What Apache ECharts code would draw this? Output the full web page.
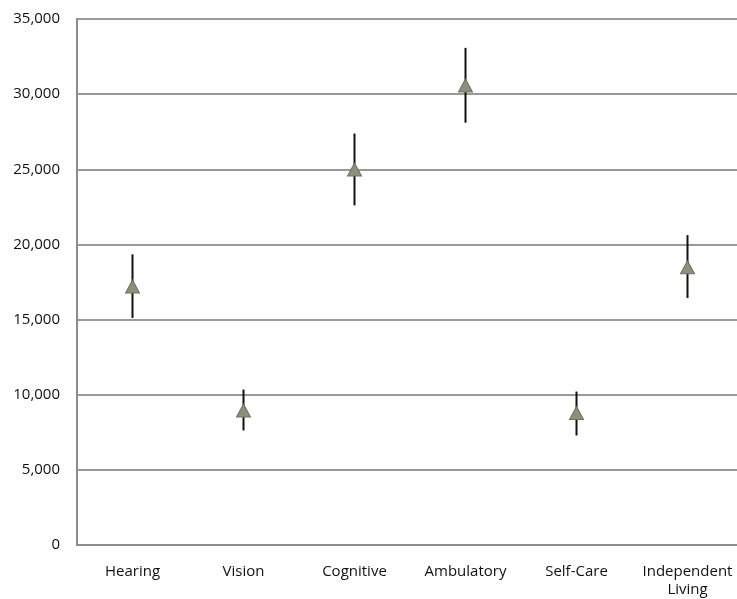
<!DOCTYPE html>
<html>
<head>
<meta charset="utf-8">
<script src="https://cdn.jsdelivr.net/npm/echarts@6/dist/echarts.min.js"></script>
<style>
html,body{margin:0;padding:0;background:#fff;overflow:hidden;}
#chart{width:752px;height:599px;}
</style>
</head>
<body>
<div id="chart"></div>
<script>
const categories = ['Hearing', 'Vision', 'Cognitive', 'Ambulatory', 'Self-Care', 'Independent\nLiving'];
const estimates = [17200, 8950, 24980, 30580, 8780, 18480];
const lowerBounds = [15110, 7620, 22600, 28100, 7290, 16440];
const upperBounds = [19340, 10340, 27380, 33080, 10210, 20620];
const yTicks = [0, 5000, 10000, 15000, 20000, 25000, 30000, 35000];

const chart = echarts.init(document.getElementById('chart'), null, {renderer: 'canvas'});
const errData = categories.map((c, i) => [i, lowerBounds[i], upperBounds[i]]);
const fontFam = '"Open Sans", "Noto Sans", sans-serif';

chart.setOption({
  animation: false,
  backgroundColor: '#ffffff',
  grid: {left: 77, width: 666, top: 19, bottom: 53, containLabel: false},
  xAxis: {
    type: 'category',
    data: categories,
    boundaryGap: true,
    axisLine: {show: true, lineStyle: {color: '#8c8c8c', width: 2}},
    axisTick: {show: false},
    axisLabel: {color: '#111111', fontSize: 15, fontFamily: fontFam, margin: 18, lineHeight: 18, interval: 0},
    splitLine: {show: false}
  },
  yAxis: {
    type: 'value',
    min: yTicks[0],
    max: yTicks[yTicks.length - 1],
    interval: 5000,
    axisLine: {show: true, lineStyle: {color: '#8c8c8c', width: 2}},
    axisTick: {show: false},
    axisLabel: {
      color: '#111111', fontSize: 15, fontFamily: fontFam, margin: 17,
      formatter: v => v.toLocaleString('en-US')
    },
    splitLine: {show: true, lineStyle: {color: '#999999', width: 2}}
  },
  series: [
    {
      type: 'custom',
      z: 2,
      data: errData,
      renderItem: function (params, api) {
        const x = api.value(0);
        const lo = api.coord([x, api.value(1)]);
        const hi = api.coord([x, api.value(2)]);
        return {
          type: 'line',
          shape: {x1: lo[0], y1: lo[1], x2: hi[0], y2: hi[1]},
          style: {stroke: '#111111', lineWidth: 2}
        };
      }
    },
    {
      type: 'scatter',
      z: 3,
      data: estimates,
      symbol: 'triangle',
      symbolSize: [14, 13],
      itemStyle: {color: '#8e8e80', borderColor: '#707058', borderWidth: 1, opacity: 1}
    }
  ]
});
</script>
</body>
</html>
